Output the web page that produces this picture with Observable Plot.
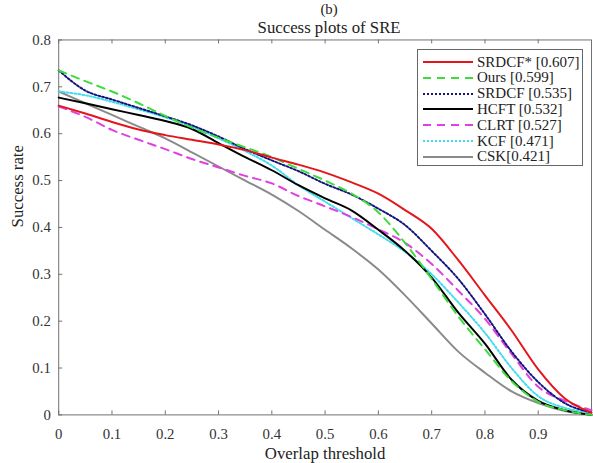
<!DOCTYPE html>
<html><head><meta charset="utf-8">
<script src="https://cdn.jsdelivr.net/npm/d3@7"></script>
<script src="https://cdn.jsdelivr.net/npm/@observablehq/plot@0.6"></script>
<style>
html,body{margin:0;padding:0;background:#fff;overflow:hidden;}
#wrap{position:relative;width:593px;height:463px;overflow:hidden;}
#wrap > svg{position:absolute;left:0;top:0;}
#legend{position:absolute;left:417px;top:49px;width:166px;height:117px;border:1px solid #666;background:#fff;box-sizing:border-box;font-family:"Liberation Serif",serif;font-size:15px;color:#222;}
.row{position:absolute;left:4px;height:16px;display:flex;align-items:center;white-space:nowrap;}
.row svg{display:block;margin-right:3px;}
</style></head><body><div id="wrap"></div>
<script>
// Overlap thresholds
const thresholds = [0,0.05,0.1,0.15,0.2,0.25,0.3,0.35,0.4,0.45,0.5,0.55,0.6,0.65,0.7,0.75,0.8,0.85,0.9,0.95,1];
// Success rates
const srdcfStar = [0.66,0.643,0.625,0.609,0.597,0.587,0.577,0.565,0.549,0.534,0.517,0.496,0.472,0.437,0.397,0.33,0.255,0.18,0.097,0.035,0.005];
const ours      = [0.735,0.712,0.69,0.665,0.638,0.613,0.591,0.571,0.55,0.525,0.5,0.472,0.432,0.367,0.29,0.21,0.14,0.072,0.028,0.01,0];
const srdcf     = [0.735,0.692,0.673,0.655,0.637,0.618,0.594,0.567,0.543,0.52,0.493,0.47,0.44,0.405,0.35,0.29,0.215,0.135,0.07,0.025,0.005];
const hcft      = [0.677,0.665,0.652,0.64,0.627,0.61,0.58,0.55,0.522,0.49,0.462,0.436,0.395,0.35,0.293,0.218,0.152,0.075,0.03,0.01,0];
const clrt      = [0.658,0.636,0.608,0.587,0.567,0.546,0.528,0.51,0.494,0.467,0.445,0.422,0.396,0.367,0.322,0.265,0.205,0.13,0.06,0.03,0.01];
const kcf       = [0.69,0.682,0.668,0.652,0.635,0.615,0.59,0.563,0.532,0.49,0.455,0.42,0.385,0.348,0.3,0.24,0.175,0.1,0.04,0.015,0.005];
const csk       = [0.69,0.665,0.64,0.615,0.59,0.56,0.53,0.5,0.47,0.435,0.395,0.355,0.31,0.255,0.195,0.135,0.09,0.05,0.025,0.008,0];

const names  = ["SRDCF*","Ours","SRDCF","HCFT","CLRT","KCF","CSK"];
const labels = ["SRDCF* [0.607]","Ours [0.599]","SRDCF [0.535]","HCFT [0.532]","CLRT [0.527]","KCF [0.471]","CSK[0.421]"];
const seriesValues = [srdcfStar, ours, srdcf, hcft, clrt, kcf, csk];
const colors = ["#e3161b","#3ddc3d","#14147e","#000000","#e23fe2","#40dcef","#8a8a8a"];
const dashes = [null,"8,6","2,2",null,"8,6","2,2",null];

const xTicks = [0,0.1,0.2,0.3,0.4,0.5,0.6,0.7,0.8,0.9];
const yTicks = [0,0.1,0.2,0.3,0.4,0.5,0.6,0.7,0.8];

const W = 601, H = 463, mL = 59, mR = 2, mT = 40, mB = 43;
const plotW = W - mL - mR, plotH = H - mT - mB, tickLen = 4;

const lineMarks = [];
for (let s = seriesValues.length - 1; s >= 0; s--) {
  const data = thresholds.map((t, i) => ({t, v: seriesValues[s][i]}));
  lineMarks.push(Plot.line(data, {x: "t", y: "v", stroke: colors[s], strokeWidth: 2,
    strokeDasharray: dashes[s] || undefined, curve: "monotone-x"}));
}

const chart = Plot.plot({
  width: W, height: H,
  marginLeft: mL, marginRight: mR, marginTop: mT, marginBottom: mB,
  x: {domain: [0, 1]},
  y: {domain: [0, 0.8]},
  style: {fontFamily: "Liberation Serif, serif", fontSize: "15px", color: "#333", background: "white", overflow: "visible"},
  marks: [
    Plot.frame({stroke: "#707070"}),
    Plot.ruleX(xTicks, {x: d => d, y1: 0.8, y2: 0, insetTop: plotH - tickLen, stroke: "#707070"}),
    Plot.ruleX(xTicks, {x: d => d, y1: 0.8, y2: 0, insetBottom: plotH - tickLen, stroke: "#707070"}),
    Plot.ruleY(yTicks, {y: d => d, x1: 0, x2: 1, insetRight: plotW - tickLen, stroke: "#707070"}),
    Plot.axisX(xTicks, {tickSize: 0, tickPadding: 14, tickFormat: d => String(d), label: null, fontSize: 15}),
    Plot.axisY(yTicks, {tickSize: 0, tickPadding: 8, tickFormat: d => String(d), label: null, fontSize: 15}),
    ...lineMarks,
    Plot.text(["Success plots of SRE"], {text: d => d, frameAnchor: "top", lineAnchor: "middle", dy: -13, dx: 4, fontSize: 17, fill: "#222"}),
    Plot.text(["(b)"], {text: d => d, frameAnchor: "top", lineAnchor: "middle", dy: -31, dx: 4, fontSize: 15, fill: "#222"}),
    Plot.text(["Overlap threshold"], {text: d => d, frameAnchor: "bottom", lineAnchor: "middle", dy: 39, fontSize: 17, fill: "#222"}),
    Plot.text(["Success rate"], {text: d => d, frameAnchor: "left", dx: -42, rotate: -90, fontSize: 17, fill: "#222"})
  ]
});
const wrap = document.getElementById("wrap");
wrap.appendChild(chart);

// Legend
const legend = document.createElement("div");
legend.id = "legend";
labels.forEach((lab, i) => {
  const row = document.createElement("div");
  row.className = "row";
  row.style.top = (4 + i * 15.8) + "px";
  const ns = "http://www.w3.org/2000/svg";
  const svg = document.createElementNS(ns, "svg");
  svg.setAttribute("width", 52); svg.setAttribute("height", 10);
  const ln = document.createElementNS(ns, "line");
  ln.setAttribute("x1", 1); ln.setAttribute("x2", 51); ln.setAttribute("y1", 5); ln.setAttribute("y2", 5);
  ln.setAttribute("stroke", colors[i]); ln.setAttribute("stroke-width", 2);
  if (dashes[i]) ln.setAttribute("stroke-dasharray", dashes[i]);
  svg.appendChild(ln);
  row.appendChild(svg);
  const span = document.createElement("span");
  span.textContent = lab;
  row.appendChild(span);
  legend.appendChild(row);
});
wrap.appendChild(legend);
</script></body></html>
